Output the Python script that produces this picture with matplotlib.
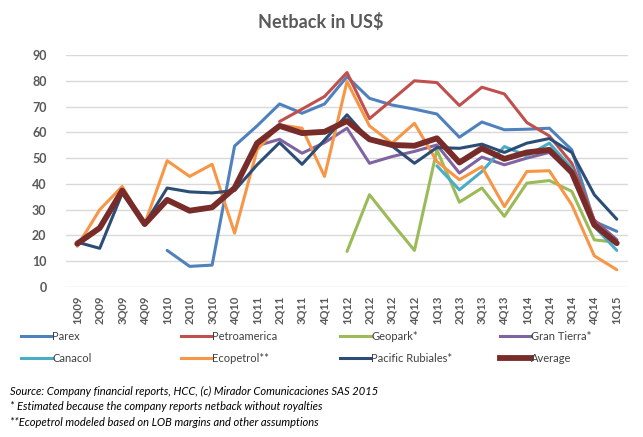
import numpy as np
import matplotlib
matplotlib.use('Agg')
import matplotlib.pyplot as plt
from matplotlib.lines import Line2D

plt.rcParams['font.family'] = ['Lato', 'DejaVu Sans']

nan = np.nan

quarters = ['1Q09', '2Q09', '3Q09', '4Q09', '1Q10', '2Q10', '3Q10', '4Q10',
            '1Q11', '2Q11', '3Q11', '4Q11', '1Q12', '2Q12', '3Q12', '4Q12',
            '1Q13', '2Q13', '3Q13', '4Q13', '1Q14', '2Q14', '3Q14', '4Q14', '1Q15']

parex = [nan, nan, nan, nan, 14.2, 8.0, 8.5, 54.7, 62.5, 71.0, 67.4, 71.0, 81.6,
         73.2, 70.6, 69.0, 67.1, 58.1, 64.0, 61.0, 61.2, 61.6, 53.2, 25.4, 21.6]
petroamerica = [nan, nan, nan, nan, nan, nan, nan, nan, nan, 64.2, 69.0, 73.9, 83.2,
                65.3, 72.6, 80.0, 79.3, 70.4, 77.5, 74.9, 63.8, 58.6, 48.0, 26.0, 18.3]
geopark = [nan, nan, nan, nan, nan, nan, nan, nan, nan, nan, nan, nan, 13.8,
           35.8, 24.8, 14.2, 53.2, 32.9, 38.4, 27.4, 40.3, 41.3, 37.1, 18.3, 17.3]
gran_tierra = [nan, nan, nan, nan, nan, nan, nan, nan, 54.8, 57.3, 51.9, 56.0, 61.6,
               48.0, 50.6, 52.6, 55.1, 44.2, 50.4, 47.4, 50.0, 52.2, 44.0, 25.4, 18.3]
canacol = [nan, nan, nan, nan, nan, nan, nan, nan, nan, nan, nan, nan, nan,
           nan, nan, nan, 47.0, 37.7, 44.8, 54.5, 50.9, 55.8, 46.1, 23.5, 14.2]
ecopetrol = [15.8, 30.0, 39.0, 24.4, 49.0, 42.9, 47.6, 20.9, 53.2, 62.9, 61.6, 42.9, 79.7,
             62.5, 55.8, 63.5, 48.7, 41.6, 46.7, 31.2, 44.8, 45.1, 31.9, 12.1, 6.7]
pacific = [17.4, 15.0, 36.4, 24.4, 38.4, 36.9, 36.5, 37.4, 47.4, 56.0, 47.6, 57.0, 66.8,
           57.0, 54.7, 48.0, 54.1, 53.8, 55.4, 52.2, 55.8, 57.6, 52.2, 35.8, 26.3]
average = [16.8, 22.9, 37.4, 24.4, 33.8, 29.6, 30.9, 38.4, 55.8, 62.5, 59.7, 60.2, 64.4,
           57.3, 55.1, 54.8, 57.7, 48.3, 53.8, 49.7, 52.2, 53.2, 44.4, 24.1, 17.0]

series = [
    ('Parex', parex, '#4F81BD', 2.2),
    ('Petroamerica', petroamerica, '#C0504D', 2.2),
    ('Geopark*', geopark, '#9BBB59', 2.2),
    ('Gran Tierra*', gran_tierra, '#8064A2', 2.2),
    ('Canacol', canacol, '#4BACC6', 2.2),
    ('Ecopetrol**', ecopetrol, '#F79646', 2.2),
    ('Pacific Rubiales*', pacific, '#2C4D75', 2.2),
    ('Average', average, '#772C2A', 4.2),
]

W, H = 643, 437
fig = plt.figure(figsize=(W / 100, H / 100), dpi=100)
ax = fig.add_axes([66 / W, 1 - 287 / H, (628 - 66) / W, (287 - 55) / H])

x = np.arange(len(quarters))
for name, vals, col, lw in series:
    ax.plot(x, vals, color=col, lw=lw, solid_capstyle='round',
            solid_joinstyle='round')

ax.set_xlim(-0.5, len(quarters) - 0.5)
ax.set_ylim(0, 90)
ax.set_yticks(range(0, 91, 10))
ax.set_xticks(x)
ax.set_xticklabels(quarters, rotation=90)
ax.grid(axis='y', color='#D9D9D9', lw=1)
ax.set_axisbelow(True)
for s in ['top', 'right', 'left', 'bottom']:
    ax.spines[s].set_visible(False)
ax.tick_params(length=0, labelcolor='#595959')
ax.tick_params(axis='x', pad=6, labelsize=8)
ax.tick_params(axis='y', pad=14, labelsize=9)
for lab in ax.get_xticklabels() + ax.get_yticklabels():
    lab.set_fontweight('bold')

fig.text(321 / W, 1 - 22 / H, 'Netback in US$', ha='center', va='center',
         fontsize=13, fontweight='bold', color='#595959')

# legend, four columns of two rows
col_x = [23, 183, 342, 502]
for c in range(4):
    hs, ls = [], []
    for r in range(2):
        name, vals, col, lw = series[r * 4 + c]
        hs.append(Line2D([], [], color=col, lw=lw))
        ls.append(name)
    fig.legend(hs, ls, loc='upper left',
               bbox_to_anchor=((col_x[c] - 2) / W, 1 - 331 / H),
               frameon=False, prop={'size': 8}, handlelength=2.8,
               handletextpad=0.0, labelspacing=1.0, borderpad=0,
               borderaxespad=0, labelcolor='#404040')

notes = ['Source: Company financial reports, HCC, (c) Mirador Comunicaciones SAS 2015',
         '* Estimated because the company reports netback without royalties',
         '**Ecopetrol modeled based on LOB margins and other assumptions']
for yy, t in zip([391, 407, 423], notes):
    fig.text(10 / W, 1 - yy / H, t, ha='left', va='center', fontsize=8,
             style='italic', color='#000000')

fig.savefig('out.png', dpi=100)
